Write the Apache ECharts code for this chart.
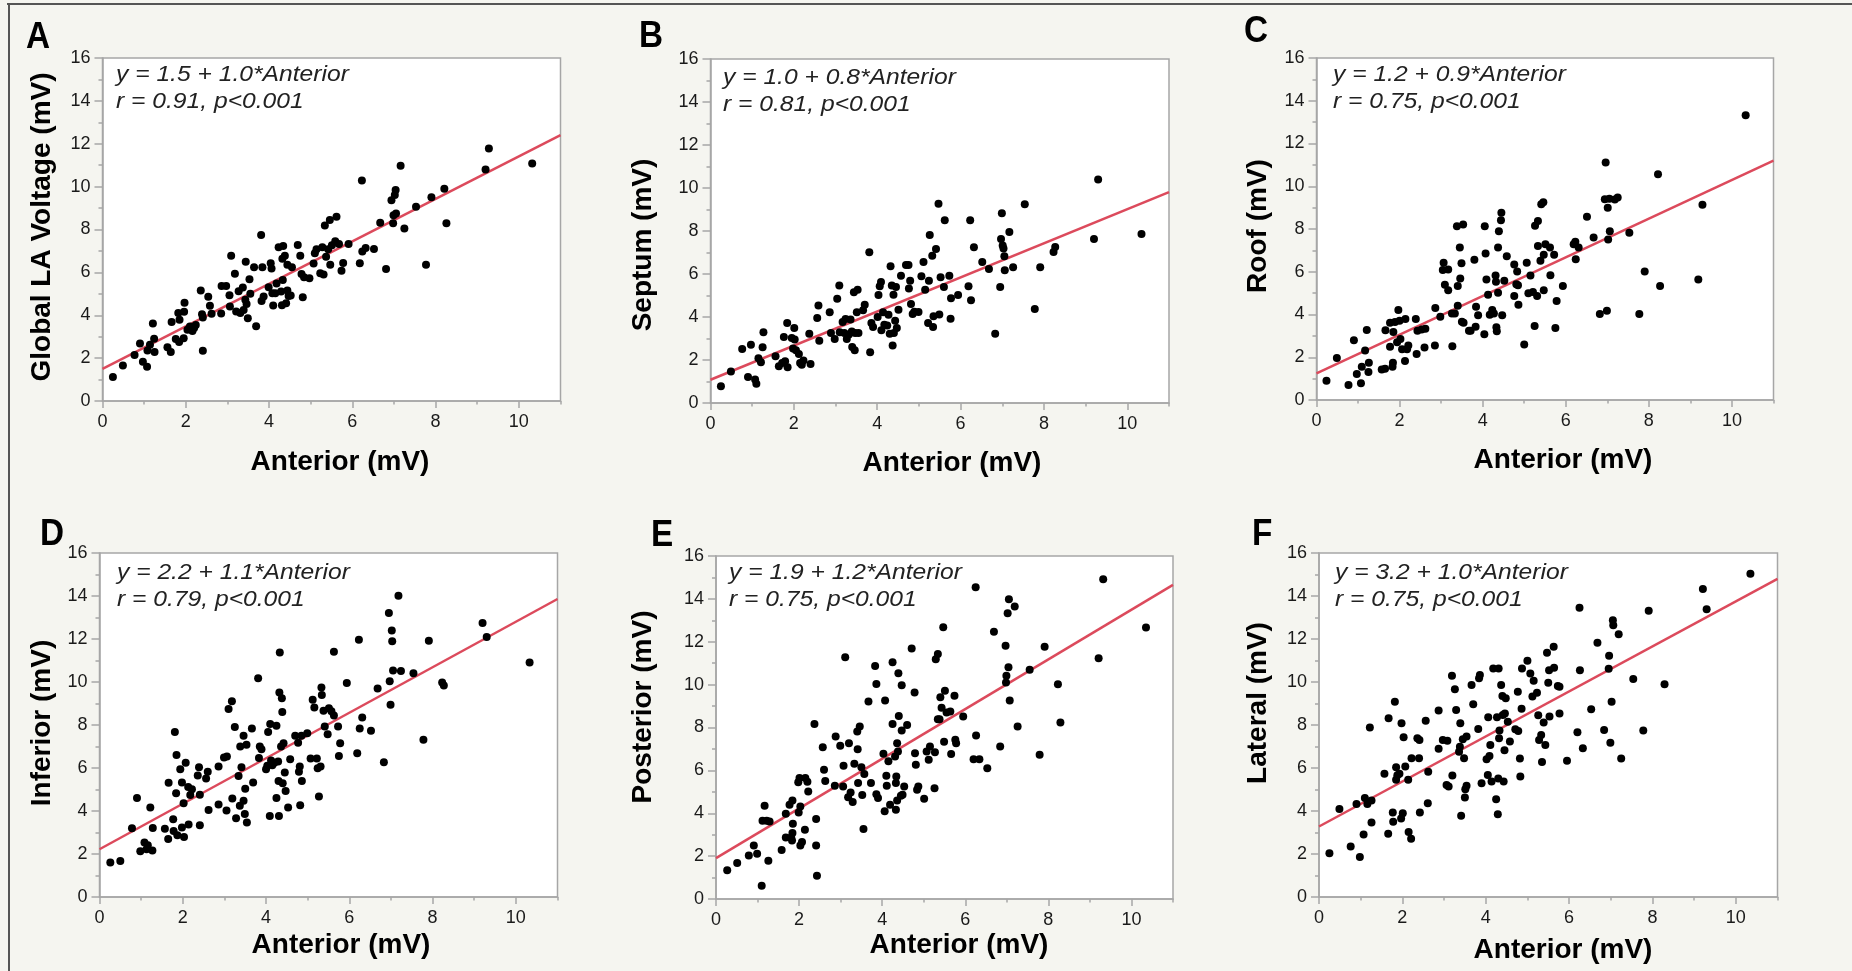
<!DOCTYPE html>
<html>
<head>
<meta charset="utf-8">
<script src="https://cdn.jsdelivr.net/npm/echarts@6/dist/echarts.min.js"></script>
<style>
html,body{margin:0;padding:0;background:#f5f5f0;}
#chart{width:1852px;height:971px;}
</style>
</head>
<body>
<div id="chart"></div>
<script>
// ---------------- DATA ----------------
const panelLetters = ['A','B','C','D','E','F'];
const yTitles = ['Global LA Voltage (mV)','Septum (mV)','Roof (mV)','Inferior (mV)','Posterior (mV)','Lateral (mV)'];
const xTitle = 'Anterior (mV)';
const eqLines = ['y = 1.5 + 1.0*Anterior','y = 1.0 + 0.8*Anterior','y = 1.2 + 0.9*Anterior','y = 2.2 + 1.1*Anterior','y = 1.9 + 1.2*Anterior','y = 3.2 + 1.0*Anterior'];
const rLines = ['r = 0.91, p<0.001','r = 0.81, p<0.001','r = 0.75, p<0.001','r = 0.79, p<0.001','r = 0.75, p<0.001','r = 0.75, p<0.001'];
const xTicks = [0,2,4,6,8,10];
const xMinorTicks = [1,3,5,7,9,11];
// fitted line: value at Anterior = 0 and at Anterior = 11
const fitStart = [1.5, 1.08, 1.25, 2.22, 1.91, 3.28];
const fitEnd   = [12.4, 9.81, 11.2, 13.86, 14.65, 14.8];

const globalLA = [[0.25,1.12],[0.49,1.66],[0.77,2.14],[0.90,2.68],[0.97,1.83],[1.07,1.60],[1.08,2.36],[1.21,3.62],[1.24,2.90],[1.25,2.28],[1.14,2.62],[1.56,2.51],[1.64,2.28],[1.66,3.68],[1.76,2.89],[1.82,4.10],[1.84,2.75],[1.85,3.79],[1.95,2.93],[1.96,4.16],[1.97,4.58],[2.04,3.32],[2.10,3.48],[2.16,3.27],[2.20,3.40],[2.24,3.55],[2.36,5.15],[2.39,4.05],[2.41,2.34],[2.41,3.90],[2.54,4.86],[2.58,4.44],[2.62,4.07],[2.85,4.08],[2.86,5.37],[2.97,5.37],[3.05,4.93],[3.06,4.41],[3.09,6.77],[3.18,5.94],[3.21,4.17],[3.27,5.12],[3.31,4.10],[3.37,5.29],[3.39,4.25],[3.44,6.49],[3.43,4.72],[3.46,4.52],[3.49,3.86],[3.53,5.68],[3.55,5.00],[3.64,6.24],[3.69,3.49],[3.81,7.74],[3.84,6.24],[3.82,4.67],[3.87,4.87],[3.99,5.31],[4.04,6.42],[4.06,6.18],[4.08,5.03],[4.10,4.45],[4.15,5.03],[4.18,5.48],[4.23,7.17],[4.29,5.11],[4.31,4.47],[4.34,7.23],[4.32,6.64],[4.33,5.65],[4.38,6.77],[4.41,4.56],[4.44,6.35],[4.44,5.15],[4.47,4.90],[4.52,4.92],[4.55,6.24],[4.69,7.28],[4.75,6.77],[4.78,5.93],[4.81,4.84],[4.84,5.77],[4.97,5.73],[5.07,6.41],[5.10,6.89],[5.14,7.08],[5.23,5.96],[5.28,7.17],[5.31,5.90],[5.34,8.19],[5.37,6.73],[5.42,7.08],[5.46,8.44],[5.47,6.35],[5.51,7.26],[5.59,7.45],[5.62,8.60],[5.68,7.32],[5.74,6.08],[5.78,6.44],[5.91,7.32],[6.18,6.42],[6.23,10.29],[6.24,6.97],[6.32,7.14],[6.52,7.09],[6.67,8.32],[6.81,6.16],[6.94,9.37],[6.98,8.29],[6.99,8.67],[7.02,9.61],[7.04,9.84],[7.05,8.75],[7.16,10.97],[7.25,8.05],[7.53,9.06],[7.77,6.35],[7.90,9.50],[8.21,9.90],[8.26,8.29],[9.20,10.80],[9.28,11.78],[10.32,11.08]];

const septum = [[0.25,0.78],[0.49,1.46],[0.76,2.51],[0.90,1.21],[0.97,2.71],[1.07,1.09],[1.10,0.90],[1.15,2.08],[1.21,1.89],[1.25,2.59],[1.27,3.29],[1.56,2.17],[1.64,1.71],[1.72,1.86],[1.76,3.07],[1.79,1.94],[1.84,3.72],[1.85,1.66],[1.95,3.02],[1.98,2.53],[2.01,3.49],[2.02,2.95],[2.05,2.45],[2.12,2.28],[2.15,1.86],[2.19,1.78],[2.23,1.98],[2.37,3.22],[2.40,1.81],[2.56,3.95],[2.59,4.54],[2.61,2.90],[2.86,4.22],[2.89,3.26],[2.98,2.98],[3.04,4.85],[3.09,5.47],[3.10,3.29],[3.17,3.77],[3.21,3.26],[3.24,3.91],[3.27,2.98],[3.32,3.19],[3.36,3.88],[3.39,3.33],[3.40,2.60],[3.46,2.45],[3.44,5.15],[3.47,3.26],[3.51,4.22],[3.53,5.27],[3.55,3.26],[3.66,4.31],[3.70,4.57],[3.81,7.01],[3.83,2.36],[3.86,3.72],[3.90,3.53],[4.01,4.00],[4.03,5.02],[4.06,5.43],[4.09,5.63],[4.10,3.38],[4.14,4.22],[4.17,3.64],[4.24,3.60],[4.27,4.11],[4.30,3.22],[4.32,6.36],[4.35,5.46],[4.37,2.67],[4.39,5.04],[4.40,3.26],[4.43,3.83],[4.45,5.40],[4.47,3.49],[4.51,4.34],[4.57,5.92],[4.69,6.42],[4.75,6.42],[4.76,5.33],[4.79,5.69],[4.81,4.60],[4.85,4.14],[4.89,4.25],[4.99,4.23],[5.06,5.89],[5.11,6.56],[5.15,5.27],[5.22,3.72],[5.24,5.69],[5.26,7.81],[5.32,6.85],[5.34,3.53],[5.35,4.03],[5.41,7.16],[5.47,9.27],[5.49,4.12],[5.52,5.85],[5.60,5.40],[5.62,8.50],[5.73,5.92],[5.76,3.92],[5.77,4.87],[5.94,5.02],[6.19,5.43],[6.23,8.50],[6.25,4.78],[6.32,7.24],[6.52,6.56],[6.68,6.23],[6.83,3.22],[6.95,5.40],[6.97,7.63],[6.99,8.82],[7.01,7.32],[7.03,7.19],[7.05,6.82],[7.06,6.17],[7.17,7.95],[7.26,6.31],[7.54,9.24],[7.78,4.37],[7.91,6.31],[8.23,7.02],[8.27,7.26],[9.20,7.63],[9.30,10.39],[10.34,7.86]];

const roof = [[0.24,0.90],[0.49,1.96],[0.77,0.70],[0.90,2.79],[0.97,1.22],[1.07,0.78],[1.09,1.56],[1.17,2.31],[1.21,3.27],[1.25,1.31],[1.26,1.74],[1.57,1.43],[1.65,1.46],[1.66,3.26],[1.77,3.61],[1.77,2.49],[1.83,1.56],[1.84,1.74],[1.85,3.18],[1.89,3.65],[1.94,2.70],[1.97,4.21],[2.00,3.71],[2.02,2.85],[2.06,2.37],[2.13,1.82],[2.14,3.79],[2.18,2.37],[2.21,2.55],[2.39,3.79],[2.41,2.15],[2.43,3.24],[2.53,3.30],[2.60,2.46],[2.62,3.33],[2.85,2.55],[2.86,4.30],[2.98,3.89],[3.06,6.42],[3.04,6.08],[3.09,5.39],[3.17,6.11],[3.17,5.14],[3.26,4.05],[3.27,2.52],[3.33,4.05],[3.38,8.13],[3.40,5.33],[3.40,4.41],[3.45,7.14],[3.46,5.69],[3.49,6.40],[3.50,3.66],[3.53,8.21],[3.54,3.61],[3.67,3.24],[3.71,3.24],[3.80,6.56],[3.83,3.43],[3.84,4.36],[3.89,3.97],[4.04,3.08],[4.05,8.13],[4.07,6.85],[4.09,5.64],[4.13,4.92],[4.17,3.99],[4.23,4.21],[4.27,4.05],[4.31,5.83],[4.32,5.53],[4.33,3.40],[4.34,3.22],[4.37,7.14],[4.37,5.02],[4.39,7.90],[4.44,8.41],[4.45,8.76],[4.47,3.96],[4.52,5.58],[4.58,6.73],[4.76,4.86],[4.76,6.34],[4.81,5.41],[4.83,6.01],[4.85,5.37],[4.86,4.46],[5.00,2.60],[5.06,6.42],[5.10,4.99],[5.15,5.83],[5.21,5.05],[5.25,3.46],[5.26,8.15],[5.31,4.86],[5.33,8.38],[5.33,7.20],[5.39,6.51],[5.41,9.16],[5.46,9.25],[5.47,5.13],[5.47,6.79],[5.51,7.29],[5.62,7.14],[5.63,5.84],[5.72,6.79],[5.75,3.37],[5.78,4.63],[5.93,5.33],[6.19,7.29],[6.23,7.40],[6.24,6.59],[6.31,7.14],[6.51,8.57],[6.67,7.60],[6.82,4.02],[6.94,9.39],[6.96,11.11],[6.99,4.18],[7.01,9.00],[7.02,7.51],[7.05,9.41],[7.06,7.90],[7.18,9.38],[7.25,9.47],[7.53,7.82],[7.77,4.02],[7.90,6.01],[8.22,10.56],[8.27,5.33],[9.19,5.64],[9.29,9.13],[10.33,13.32]];

const inferior = [[0.26,1.61],[0.50,1.68],[0.78,3.20],[0.90,4.61],[0.98,2.13],[1.08,2.53],[1.13,2.22],[1.16,2.41],[1.22,4.16],[1.27,2.16],[1.28,3.21],[1.57,3.18],[1.65,2.70],[1.66,5.31],[1.77,3.62],[1.78,3.07],[1.81,7.67],[1.84,4.83],[1.85,6.60],[1.87,2.87],[1.94,5.94],[1.98,5.32],[1.98,3.23],[2.02,4.36],[2.03,2.79],[2.07,6.25],[2.13,5.12],[2.14,3.37],[2.18,4.75],[2.22,5.01],[2.36,5.65],[2.39,6.04],[2.41,4.76],[2.41,3.34],[2.56,5.51],[2.60,5.83],[2.62,4.05],[2.86,6.07],[2.86,4.30],[2.99,6.49],[3.05,4.02],[3.06,6.53],[3.10,8.74],[3.18,9.11],[3.19,4.58],[3.25,7.91],[3.28,3.66],[3.34,5.63],[3.37,4.24],[3.38,7.00],[3.41,6.04],[3.46,7.50],[3.46,4.48],[3.49,3.86],[3.50,5.03],[3.53,7.08],[3.54,3.46],[3.66,7.84],[3.69,5.32],[3.81,10.18],[3.83,6.47],[3.85,7.00],[3.89,6.87],[4.00,5.94],[4.03,6.10],[4.05,7.67],[4.09,3.77],[4.10,8.05],[4.12,6.35],[4.15,6.13],[4.20,6.25],[4.25,7.96],[4.25,4.61],[4.29,6.30],[4.30,5.40],[4.31,3.77],[4.32,9.51],[4.33,11.37],[4.36,7.00],[4.38,9.25],[4.39,8.61],[4.40,5.29],[4.42,7.15],[4.45,5.79],[4.47,4.93],[4.53,4.16],[4.58,6.41],[4.70,7.50],[4.77,7.18],[4.79,5.82],[4.81,6.07],[4.82,4.27],[4.85,7.50],[4.86,5.40],[4.99,7.62],[5.07,6.44],[5.12,9.17],[5.16,8.81],[5.22,6.44],[5.24,5.99],[5.27,4.67],[5.31,6.07],[5.33,9.75],[5.34,9.39],[5.38,8.66],[5.41,7.93],[5.48,7.57],[5.51,8.78],[5.57,8.64],[5.63,11.41],[5.63,8.44],[5.73,7.93],[5.75,6.56],[5.78,7.15],[5.94,9.95],[6.19,6.69],[6.23,11.96],[6.25,7.84],[6.31,8.35],[6.52,7.73],[6.68,9.70],[6.83,6.27],[6.95,13.21],[6.97,10.04],[6.99,8.94],[7.02,12.40],[7.03,11.90],[7.05,10.54],[7.18,14.01],[7.24,10.51],[7.54,10.41],[7.78,7.31],[7.91,11.92],[8.23,9.98],[8.27,9.84],[9.20,12.74],[9.30,12.09],[10.33,10.91]];

const posterior = [[0.27,1.34],[0.51,1.68],[0.79,2.03],[0.91,2.49],[0.99,2.11],[1.10,0.62],[1.12,3.65],[1.17,4.35],[1.22,3.65],[1.26,1.79],[1.29,3.62],[1.58,2.28],[1.68,3.98],[1.68,2.87],[1.77,4.40],[1.81,2.87],[1.84,4.60],[1.85,3.51],[1.84,3.08],[1.83,2.73],[1.98,5.45],[1.99,4.04],[2.03,4.32],[2.01,5.64],[2.03,2.50],[2.07,2.66],[2.14,3.23],[2.15,5.64],[2.20,5.47],[2.22,5.02],[2.37,8.16],[2.41,3.73],[2.41,2.49],[2.43,1.09],[2.57,7.08],[2.60,6.03],[2.63,5.51],[2.86,5.28],[2.88,7.58],[2.99,7.15],[3.06,5.25],[3.07,6.21],[3.11,11.28],[3.18,4.75],[3.20,7.27],[3.24,4.97],[3.29,4.52],[3.33,6.31],[3.40,7.81],[3.42,5.41],[3.41,6.99],[3.46,8.05],[3.50,6.15],[3.52,4.85],[3.55,3.26],[3.57,5.83],[3.67,9.21],[3.73,5.41],[3.83,10.87],[3.86,10.03],[3.86,4.89],[3.90,4.71],[4.03,6.77],[4.06,4.09],[4.07,9.26],[4.10,5.75],[4.11,5.28],[4.15,6.42],[4.19,4.40],[4.25,11.04],[4.25,8.16],[4.31,6.65],[4.33,5.41],[4.33,4.16],[4.34,5.72],[4.36,4.60],[4.36,7.27],[4.39,10.53],[4.38,6.88],[4.40,8.54],[4.45,4.82],[4.47,9.97],[4.47,7.86],[4.49,4.86],[4.53,5.25],[4.60,8.12],[4.71,11.68],[4.78,9.63],[4.79,6.80],[4.81,6.26],[4.84,5.10],[4.87,5.25],[5.01,4.68],[5.07,6.88],[5.12,6.49],[5.15,7.11],[5.26,5.17],[5.27,6.84],[5.29,11.18],[5.34,11.43],[5.34,8.39],[5.38,8.39],[5.40,9.41],[5.43,8.92],[5.47,12.68],[5.49,7.33],[5.51,9.72],[5.55,8.70],[5.64,8.75],[5.66,6.76],[5.74,9.48],[5.76,7.43],[5.78,7.27],[5.95,8.51],[6.20,6.52],[6.25,14.54],[6.26,7.63],[6.34,6.52],[6.53,6.10],[6.69,12.47],[6.84,7.11],[6.97,11.81],[6.99,10.41],[6.98,10.10],[7.02,13.33],[7.04,10.81],[7.05,13.98],[7.07,9.26],[7.19,13.64],[7.26,8.05],[7.55,10.69],[7.79,6.73],[7.91,11.77],[8.23,10.02],[8.29,8.23],[9.21,11.23],[9.32,14.91],[10.35,12.66]];

const lateral = [[0.25,2.04],[0.49,4.09],[0.76,2.35],[0.90,4.33],[0.98,1.86],[1.07,2.91],[1.10,4.61],[1.16,4.33],[1.22,7.88],[1.26,4.49],[1.26,3.47],[1.57,5.73],[1.66,2.94],[1.67,8.31],[1.77,3.93],[1.78,3.50],[1.82,9.08],[1.85,6.03],[1.85,5.45],[1.88,5.66],[1.93,5.73],[1.97,3.65],[1.98,8.08],[2.01,3.90],[2.03,7.43],[2.07,6.07],[2.14,5.45],[2.15,3.02],[2.21,2.71],[2.22,6.45],[2.36,7.38],[2.40,6.45],[2.41,7.30],[2.42,3.93],[2.56,8.20],[2.61,4.36],[2.62,5.83],[2.87,8.67],[2.87,6.89],[2.97,7.30],[3.06,5.21],[3.08,7.27],[3.11,5.14],[3.19,10.29],[3.20,5.65],[3.26,9.66],[3.29,8.70],[3.36,6.76],[3.38,6.99],[3.39,8.08],[3.41,3.78],[3.45,7.34],[3.48,6.45],[3.50,4.63],[3.51,5.01],[3.54,5.18],[3.54,7.46],[3.66,9.86],[3.70,8.96],[3.82,7.81],[3.84,10.17],[3.86,10.32],[3.90,5.29],[4.02,6.41],[4.05,5.68],[4.06,8.36],[4.09,6.56],[4.11,7.07],[4.14,5.37],[4.18,10.63],[4.25,4.55],[4.27,8.36],[4.29,3.85],[4.30,5.51],[4.31,10.63],[4.32,7.38],[4.33,7.74],[4.37,9.86],[4.40,9.35],[4.41,8.46],[4.43,5.37],[4.45,6.83],[4.46,8.54],[4.48,9.24],[4.53,8.15],[4.58,7.23],[4.71,7.80],[4.77,9.55],[4.78,7.72],[4.82,6.44],[4.83,5.60],[4.86,8.76],[4.87,10.63],[5.00,10.99],[5.07,10.40],[5.12,9.32],[5.15,10.06],[5.23,9.50],[5.26,8.45],[5.28,7.30],[5.33,7.54],[5.35,6.28],[5.39,8.12],[5.43,7.07],[5.47,11.36],[5.50,9.97],[5.52,10.55],[5.53,8.39],[5.63,11.64],[5.64,10.66],[5.73,9.81],[5.77,9.78],[5.77,8.54],[5.95,6.34],[6.20,7.66],[6.26,10.55],[6.25,13.45],[6.33,6.92],[6.53,8.73],[6.68,11.82],[6.84,7.77],[6.96,11.22],[6.95,10.62],[6.99,7.18],[7.02,9.08],[7.05,12.87],[7.06,12.64],[7.19,12.22],[7.25,6.44],[7.54,10.14],[7.78,7.74],[7.91,13.31],[8.29,9.90],[9.21,14.33],[9.30,13.38],[10.35,15.04]];

const panelData = [globalLA, septum, roof, inferior, posterior, lateral];

// ---------------- LAYOUT ----------------
const grids = [
  {left:102.5, top:58, width:458, height:343},
  {left:710.5, top:59, width:458.5, height:344},
  {left:1316.5, top:58, width:457, height:342},
  {left:99.5, top:553, width:458, height:344},
  {left:716, top:556, width:457, height:343},
  {left:1319, top:553, width:458.5, height:344}
];
const letterPos = [[26,38],[639,37],[1244,32],[40,535],[651,536],[1252,535]];
const eqPos = [[116,75,102],[723,78,105],[1333,75,102],[117,573,600],[729,573,600],[1335,573,600]];
const xTitlePos = [[340,462],[952,463],[1563,460],[341,945],[959,945],[1563,950]];
const yTitlePos = [[42,227],[643,245],[1258,226],[42,723],[643,707],[1258,703]];

const AX = '#a6a6a6';
const TXT = '#1a1a1a';
const SANS = '"Liberation Sans", Arial, sans-serif';

const option = {
  animation:false,
  backgroundColor:'#f5f5f0',
  grid:[], xAxis:[], yAxis:[], series:[], graphic:[]
};

panelData.forEach((pts,i)=>{
  option.grid.push(Object.assign({show:true, backgroundColor:'#ffffff', borderColor:AX, borderWidth:1.5}, grids[i]));
  option.xAxis.push({
    gridIndex:i, type:'value', min:0, max:11, interval:2, position:'bottom',
    axisLine:{show:true, onZero:false, lineStyle:{color:AX, width:1.5}},
    axisTick:{show:true, length:7, lineStyle:{color:AX, width:1.5}, customValues:xTicks},
    axisLabel:{margin:12, color:TXT, fontSize:18, fontFamily:SANS, customValues:xTicks,
      formatter:v=> (v>10.5 ? '' : String(v))},
    splitLine:{show:false}
  });
  option.xAxis.push({
    gridIndex:i, type:'value', min:0, max:11, interval:1, position:'bottom',
    axisLine:{show:false}, axisLabel:{show:false},
    axisTick:{show:true, length:3.5, lineStyle:{color:AX, width:1.5}, customValues:xMinorTicks},
    splitLine:{show:false}
  });
  option.yAxis.push({
    gridIndex:i, type:'value', min:0, max:16, interval:2,
    axisLine:{show:true, onZero:false, lineStyle:{color:AX, width:1.5}},
    axisTick:{show:true, length:8, lineStyle:{color:AX, width:1.5}},
    minorTick:{show:true, splitNumber:2, length:4, lineStyle:{color:AX, width:1.5}},
    axisLabel:{margin:12, color:TXT, fontSize:18, fontFamily:SANS},
    splitLine:{show:false}, minorSplitLine:{show:false}
  });
  option.series.push({
    type:'line', xAxisIndex:2*i, yAxisIndex:i, symbol:'none', z:2,
    data:[[0,fitStart[i]],[11,fitEnd[i]]],
    lineStyle:{color:'#dc4a5c', width:2.5}
  });
  option.series.push({
    type:'scatter', xAxisIndex:2*i, yAxisIndex:i, z:3,
    symbolSize:8, itemStyle:{color:'#000000', opacity:1},
    data:pts
  });
  // texts
  option.graphic.push({type:'text', x:letterPos[i][0], y:letterPos[i][1], scaleX:0.9,
    style:{text:panelLetters[i], fill:'#000', fontSize:37, fontWeight:'bold', fontFamily:SANS, align:'left', verticalAlign:'middle'}});
  option.graphic.push({type:'text', x:eqPos[i][0], y:eqPos[i][1], scaleX:1.12,
    style:{text:eqLines[i], fill:'#222', fontSize:22, fontStyle:'italic', fontFamily:SANS, align:'left', verticalAlign:'middle'}});
  option.graphic.push({type:'text', x:eqPos[i][0], y:eqPos[i][2], scaleX:1.12,
    style:{text:rLines[i], fill:'#222', fontSize:22, fontStyle:'italic', fontFamily:SANS, align:'left', verticalAlign:'middle'}});
  option.graphic.push({type:'text', x:xTitlePos[i][0], y:xTitlePos[i][1],
    style:{text:xTitle, fill:'#000', fontSize:28, fontWeight:'bold', fontFamily:SANS, align:'center', verticalAlign:'middle'}});
  option.graphic.push({type:'text', x:yTitlePos[i][0], y:yTitlePos[i][1], rotation:Math.PI/2,
    style:{text:yTitles[i], fill:'#000', fontSize:28, fontWeight:'bold', fontFamily:SANS, align:'center', verticalAlign:'middle'}});
});

// figure frame (top and left rules)
option.graphic.push({type:'rect', shape:{x:7, y:3, width:1845, height:2}, style:{fill:'#555'}});
option.graphic.push({type:'rect', shape:{x:8, y:3, width:2, height:968}, style:{fill:'#555'}});

const chart = echarts.init(document.getElementById('chart'), null, {renderer:'canvas'});
chart.setOption(option);
</script>
</body>
</html>
